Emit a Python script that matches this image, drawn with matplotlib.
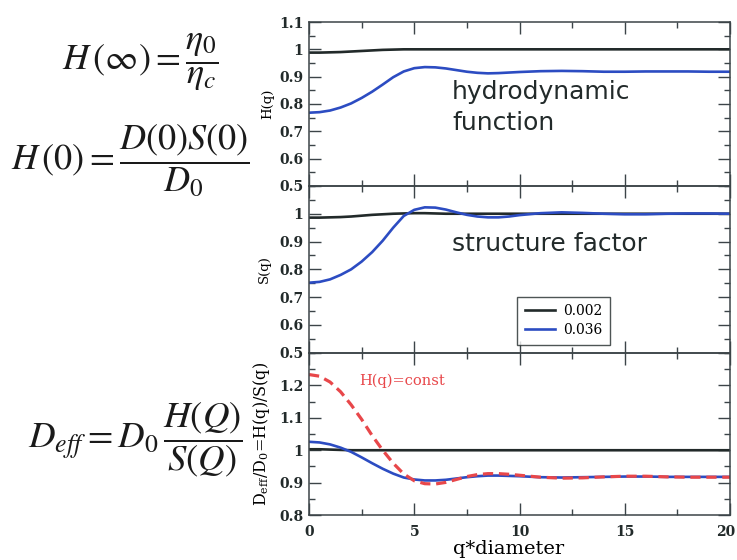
import matplotlib
matplotlib.use("Agg")
import matplotlib.pyplot as plt
from matplotlib.ticker import MultipleLocator

plt.rcParams["font.family"] = ["DejaVu Serif"]
plt.rcParams["mathtext.fontset"] = "stix"

# wave vector (q * particle diameter)
q = [0, 0.5, 1, 1.5, 2, 2.5, 3, 3.5, 4, 4.5, 5, 5.5, 6, 6.5, 7, 7.5, 8, 8.5, 9, 9.5, 10,
     11, 12, 13, 14, 15, 16, 17, 18, 19, 20]

# hydrodynamic function H(q)
h_low = [0.988, 0.988, 0.989, 0.990, 0.992, 0.994, 0.996, 0.998, 0.999, 1.000, 1.000, 1.000,
         1.000, 1.000, 1.000, 1.000, 1.000, 1.000, 1.000, 1.000, 1.000,
         1.000, 1.000, 1.000, 1.000, 1.000, 1.000, 1.000, 1.000, 1.000, 1.000]
h_high = [0.768, 0.770, 0.776, 0.787, 0.802, 0.822, 0.845, 0.871, 0.898, 0.919, 0.931, 0.935,
          0.934, 0.930, 0.924, 0.918, 0.914, 0.912, 0.913, 0.915, 0.917,
          0.920, 0.921, 0.920, 0.918, 0.918, 0.919, 0.919, 0.919, 0.918, 0.918]

# static structure factor S(q)
s_low = [0.986, 0.986, 0.987, 0.988, 0.990, 0.993, 0.996, 0.998, 1.000, 1.001, 1.002, 1.002,
         1.001, 1.000, 1.000, 1.000, 1.000, 1.000, 1.000, 1.000, 1.000,
         1.000, 1.000, 1.000, 1.000, 1.000, 1.000, 1.000, 1.000, 1.000, 1.000]
s_high = [0.752, 0.755, 0.764, 0.780, 0.800, 0.828, 0.862, 0.903, 0.950, 0.992, 1.014, 1.023,
          1.022, 1.015, 1.005, 0.996, 0.990, 0.987, 0.987, 0.990, 0.995,
          1.002, 1.005, 1.003, 1.000, 0.998, 0.998, 1.000, 1.001, 1.001, 1.000]

# effective diffusion D_eff/D_0 = H(q)/S(q)
d_low = [1.003, 1.003, 1.002, 1.001, 1.000, 1.000, 1.000, 1.000, 1.000, 1.000, 1.000, 1.000,
         1.000, 1.000, 1.000, 1.000, 1.000, 1.000, 1.000, 1.000, 1.000,
         1.000, 1.000, 1.000, 1.000, 1.000, 1.000, 1.000, 1.000, 1.000, 1.000]
d_high = [1.026, 1.024, 1.018, 1.008, 0.995, 0.978, 0.960, 0.943, 0.928, 0.916, 0.910, 0.907,
          0.907, 0.909, 0.913, 0.917, 0.920, 0.922, 0.922, 0.921, 0.920,
          0.917, 0.916, 0.917, 0.918, 0.919, 0.919, 0.918, 0.918, 0.918, 0.918]
d_const_h = [1.233, 1.228, 1.210, 1.180, 1.140, 1.095, 1.045, 1.000, 0.960, 0.927, 0.906, 0.897,
             0.896, 0.901, 0.910, 0.919, 0.925, 0.928, 0.928, 0.926, 0.923,
             0.917, 0.914, 0.915, 0.918, 0.920, 0.920, 0.918, 0.917, 0.917, 0.917]

labels = ["0.002", "0.036"]
x_ticks = [0, 5, 10, 15, 20]

BLACK = "#222a2a"
BLUE = "#2c4cc2"
RED = "#e8474a"
SPINE = "#3c4448"
LW = 1.9

fig = plt.figure(figsize=(7.37, 5.60), dpi=100)
left, right = 0.4193, 0.9905
bounds = [0.9607, 0.668, 0.370, 0.080]
axes = []
for i in range(3):
    ax = fig.add_axes([left, bounds[i + 1], right - left, bounds[i] - bounds[i + 1]])
    axes.append(ax)

ax1, ax2, ax3 = axes

ax1.plot(q, h_low, color=BLACK, lw=LW)
ax1.plot(q, h_high, color=BLUE, lw=LW)
ax1.set_ylim(0.5, 1.1)
ax1.set_yticks([0.5, 0.6, 0.7, 0.8, 0.9, 1.0, 1.1])
ax1.set_yticklabels(["0.5", "0.6", "0.7", "0.8", "0.9", "1", "1.1"])
ax1.set_ylabel("H(q)", fontsize=9.5)
ax1.yaxis.set_label_coords(-0.082, 0.5)
ax1.text(6.8, 0.787, "hydrodynamic\nfunction", fontsize=18, family="DejaVu Sans",
         color=BLACK, va="center", ha="left", linespacing=1.4)

l1, = ax2.plot(q, s_low, color=BLACK, lw=LW)
l2, = ax2.plot(q, s_high, color=BLUE, lw=LW)
ax2.set_ylim(0.5, 1.1)
ax2.set_yticks([0.5, 0.6, 0.7, 0.8, 0.9, 1.0])
ax2.set_yticklabels(["0.5", "0.6", "0.7", "0.8", "0.9", "1"])
ax2.set_ylabel("S(q)", fontsize=9.5)
ax2.yaxis.set_label_coords(-0.090, 0.5)
ax2.text(6.8, 0.891, "structure factor", fontsize=18, family="DejaVu Sans",
         color=BLACK, va="center", ha="left")
leg = ax2.legend([l1, l2], labels, loc="lower left", bbox_to_anchor=(0.494, 0.048),
                 fontsize=10, frameon=True, fancybox=False, edgecolor=BLACK,
                 handlelength=2.2, borderpad=0.55, labelspacing=0.35, handletextpad=0.6,
                 borderaxespad=0.0)
leg.get_frame().set_linewidth(1.0)

ax3.plot(q, d_low, color=BLACK, lw=LW)
ax3.plot(q, d_high, color=BLUE, lw=LW)
ax3.plot(q, d_const_h, color=RED, lw=LW + 0.4, dashes=(3.2, 1.8))
ax3.set_ylim(0.8, 1.3)
ax3.set_yticks([0.8, 0.9, 1.0, 1.1, 1.2])
ax3.set_yticklabels(["0.8", "0.9", "1", "1.1", "1.2"])
ax3.set_ylabel(r"D$_{\rm eff}$/D$_0$=H(q)/S(q)", fontsize=11.5, math_fontfamily="dejavuserif")
ax3.yaxis.set_label_coords(-0.088, 0.5)
ax3.text(2.4, 1.215, "H(q)=const", fontsize=10.5, color=RED, va="center", ha="left")
ax3.set_xlabel("q*diameter", fontsize=14)
ax3.xaxis.set_label_coords(0.473, -0.155)

for ax in axes:
    ax.set_xlim(0, 20)
    ax.set_xticks(x_ticks)
    ax.xaxis.set_minor_locator(MultipleLocator(2.5))
    ax.yaxis.set_minor_locator(MultipleLocator(0.05))
    ax.tick_params(which="both", direction="in", top=True, right=True, colors=SPINE,
                   labelcolor=BLACK, labelsize=10)
    ax.tick_params(axis="y", pad=4)
    ax.tick_params(axis="x", pad=7)
    ax.tick_params(which="major", length=8.5, width=1.0)
    ax.tick_params(which="minor", length=4.5, width=1.0)
    for sp in ax.spines.values():
        sp.set_color(SPINE)
        sp.set_linewidth(1.1)
    ax.patch.set_alpha(0)

# bottom axis: last label is nudged left so it stays on the canvas
ax3.set_xticklabels([str(t) for t in x_ticks[:-1]] + [""])
ax3.annotate(str(x_ticks[-1]), xy=(x_ticks[-1], 0), xycoords=("data", "axes fraction"),
             xytext=(-3, -7), textcoords="offset points", ha="center", va="top",
             fontsize=10, fontweight="bold", color=BLACK)

for ax in axes:
    for lab in ax.get_xticklabels() + ax.get_yticklabels():
        lab.set_fontweight("bold")

ax1.tick_params(labelbottom=False)
ax2.tick_params(labelbottom=False)

# formulas beside the panels
eq_color = "#1a1a1a"
fig.text(140 / 737, 1 - 62 / 560, r"$H\,(\infty)=\dfrac{\eta_0}{\eta_c}$",
         fontsize=26, ha="center", va="center", color=eq_color, math_fontfamily="stix")
fig.text(130 / 737, 1 - 160 / 560, r"$H\,(0)=\dfrac{D(0)S(0)}{D_0}$",
         fontsize=26, ha="center", va="center", color=eq_color, math_fontfamily="stix")
fig.text(135 / 737, 1 - 440 / 560, r"$D_{eff}=D_0\,\dfrac{H(Q)}{S(Q)}$",
         fontsize=26.5, ha="center", va="center", color=eq_color, math_fontfamily="stix")

fig.savefig("out.png", dpi=100)
